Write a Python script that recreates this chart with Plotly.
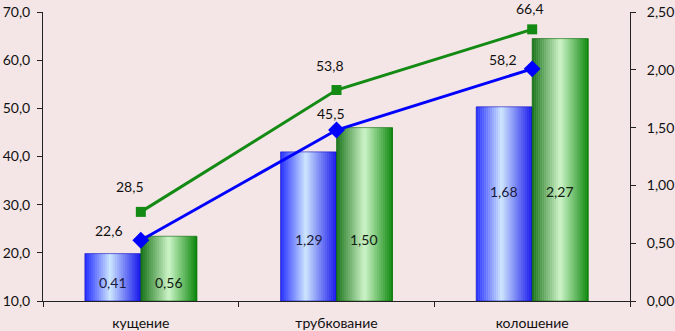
import plotly.graph_objects as go

categories = ["кущение", "трубкование", "колошение"]
bar_blue = [0.41, 1.29, 1.68]
bar_green = [0.56, 1.50, 2.27]
line_blue = [22.6, 45.5, 58.2]
line_green = [28.5, 53.8, 66.4]
left_ticks = [10, 20, 30, 40, 50, 60, 70]
right_ticks = [0, 0.5, 1.0, 1.5, 2.0, 2.5]

# label heights for bar value labels (right-axis units), per category
bar_label_y = [0.16, 0.53, 0.95]

BG = "#F4E6E6"
FONT = "Lato"
BW = 0.286  # bar width in category units
N = 28

blue_stops = [(0.0, (35, 45, 255)), (0.45, (205, 230, 255)), (1.0, (20, 20, 235))]
green_stops = [(0.0, (25, 115, 25)), (0.5, (205, 245, 200)), (1.0, (10, 135, 10))]


def grad(stops, t):
    for (t0, c0), (t1, c1) in zip(stops[:-1], stops[1:]):
        if t <= t1:
            f = (t - t0) / (t1 - t0)
            c = [round(a + (b - a) * f) for a, b in zip(c0, c1)]
            return "rgb(%d,%d,%d)" % tuple(c)
    return "rgb(%d,%d,%d)" % stops[-1][1]


fig = go.Figure()

for s, (vals, stops, edge) in enumerate(
    [(bar_blue, blue_stops, "#1010c0"), (bar_green, green_stops, "#0a6a0a")]
):
    base_off = -BW + s * BW
    for k in range(N):
        t = (k + 0.5) / N
        fig.add_trace(go.Bar(
            x=categories, y=vals, yaxis="y",
            width=BW / N + 0.002, offset=base_off + k * BW / N,
            marker=dict(color=grad(stops, t), line=dict(width=0)),
            hoverinfo="skip", showlegend=False,
        ))
    fig.add_trace(go.Bar(
        x=categories, y=vals, yaxis="y",
        width=BW, offset=base_off,
        marker=dict(color="rgba(0,0,0,0)", line=dict(width=0.6, color=edge)),
        showlegend=False,
    ))

fig.add_trace(go.Scatter(
    x=categories, y=line_blue, yaxis="y2", mode="lines+markers",
    line=dict(color="#0000FF", width=3),
    marker=dict(symbol="diamond", size=13, color="#0000FF"),
    showlegend=False,
))
fig.add_trace(go.Scatter(
    x=categories, y=line_green, yaxis="y2", mode="lines+markers",
    line=dict(color="#138A13", width=3),
    marker=dict(symbol="square", size=10, color="#138A13"),
    showlegend=False,
))

anns = []
fmt = lambda v, d: ("%.*f" % (d, v)).replace(".", ",")
# line labels
blue_shift = [(-32, 10), (-6, 17), (-29, 9)]
green_shift = [(-11, 25), (-7, 25), (-2, 21)]
for i, c in enumerate(categories):
    anns.append(dict(x=c, y=line_blue[i], xref="x", yref="y2", text=fmt(line_blue[i], 1),
                     showarrow=False, xshift=blue_shift[i][0], yshift=blue_shift[i][1]))
    anns.append(dict(x=c, y=line_green[i], xref="x", yref="y2", text=fmt(line_green[i], 1),
                     showarrow=False, xshift=green_shift[i][0], yshift=green_shift[i][1]))
    anns.append(dict(x=i - BW / 2, y=bar_label_y[i], xref="x", yref="y", text=fmt(bar_blue[i], 2),
                     showarrow=False, font=dict(color="#1a1a40")))
    anns.append(dict(x=i + BW / 2, y=bar_label_y[i], xref="x", yref="y", text=fmt(bar_green[i], 2),
                     showarrow=False, font=dict(color="#102010")))

fig.update_layout(
    width=675, height=331,
    margin=dict(l=43, r=45, t=12, b=30),
    paper_bgcolor=BG, plot_bgcolor=BG,
    font=dict(family=FONT, size=14, color="#111111"),
    separators=", ",
    barmode="overlay",
    annotations=anns,
    xaxis=dict(
        type="category", range=[-0.5, 2.5], showgrid=False, automargin=False,
        showline=True, linecolor="#222", linewidth=1,
        ticks="outside", ticklen=5, tickcolor="#222", tickson="boundaries",
        ticklabelstandoff=9,
    ),
    yaxis=dict(
        side="right", range=[0, 2.5], tickvals=right_ticks, tickformat=".2f", automargin=False,
        showgrid=False, zeroline=False, showline=True, linecolor="#222", linewidth=1,
        ticks="outside", ticklen=5, tickcolor="#222", ticklabelstandoff=8,
    ),
    yaxis2=dict(
        side="left", overlaying="y", range=[10, 70], tickvals=left_ticks, tickformat=".1f",
        automargin=False,
        showgrid=False, zeroline=False, showline=True, linecolor="#222", linewidth=1,
        ticks="outside", ticklen=5, tickcolor="#222", ticklabelstandoff=4,
    ),
)

fig.write_html(
    "out.html",
    config={"displayModeBar": False},
    post_script="document.body.style.margin='0';document.body.style.overflow='hidden';",
)
